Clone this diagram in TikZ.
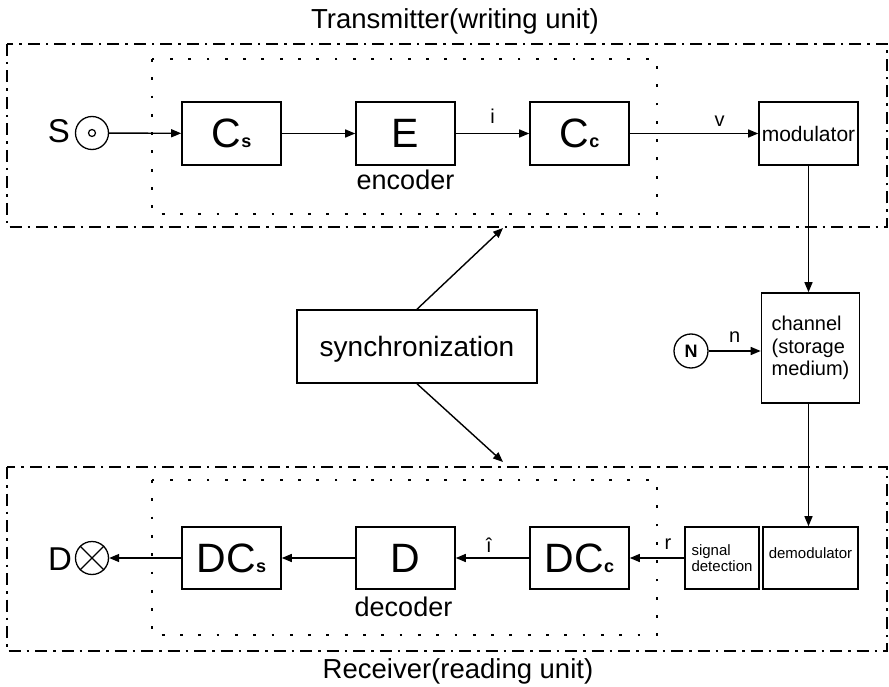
\documentclass[tikz,border=0pt]{standalone}
\usepackage{fontspec}
\setmainfont{Liberation Sans}
\usetikzlibrary{arrows.meta}

% small bold index letter set on the baseline of a block symbol
\newcommand\subtag[1]{{\fontsize{18}{18}\selectfont\bfseries #1}}
\newcommand\setfs[1]{\fontsize{#1}{#1}\selectfont}

\begin{document}
\begin{tikzpicture}[x=1pt,y=-1pt,
  block/.style={draw, line width=1.6pt, minimum width=99pt, minimum height=63pt,
                inner sep=0pt, font=\setfs{41}},
  smallbox/.style={draw, line width=1.6pt, inner sep=0pt},
  arr/.style={-{Triangle[length=10pt,width=8pt]}, line width=1.4pt},
  flowlabel/.style={anchor=base, inner sep=0pt, font=\setfs{20}},
  unitframe/.style={line width=2.2pt, dash pattern=on 12pt off 6pt on 2.5pt off 6pt},
  coderframe/.style={line width=2.8pt, dash pattern=on 2.8pt off 15.5pt},
  caption/.style={anchor=base, inner sep=0pt, font=\setfs{27.5}},
  port/.style={circle, draw, line width=1.3pt, inner sep=0pt, minimum size=33pt}
]
\path[use as bounding box] (0,0) rectangle (889,687);

% ---------- frames ----------
\draw[unitframe] (7,44) rectangle (887,227);
\draw[coderframe] (152,59) rectangle (657,214);
\draw[unitframe] (7,467) rectangle (887,651);
\draw[coderframe] (152,480) rectangle (657,635);

\node[caption] (txcap) at (455,29) {Transmitter(writing unit)};
\node[caption] (rxcap) at (458,678) {Receiver(reading unit)};

% ---------- transmitter ----------
\node[anchor=base, inner sep=0pt, font=\setfs{33}] (srclbl) at (59,143) {S};
\node[port] (src) at (92,133) {};
\node[circle, draw, line width=1.2pt, inner sep=0pt, minimum size=7pt] (srcdot) at (src.center) {};

\node[block] (cs) at (231.5,133.5) {C\subtag{s}};
\node[block] (enc) at (405.5,133.5) {E};
\node[block] (cc) at (579.5,133.5) {C\subtag{c}};
\node[smallbox, minimum width=99pt, minimum height=63pt, font=\setfs{21}, text depth=0pt] (mod) at (808.5,133.5) {modulator};
\node[anchor=base, inner sep=0pt, font=\setfs{27}] (enclbl) at (405.5,190) {encoder};

\draw[arr] (src) -- (cs);
\draw[arr] (cs) -- (enc);
\draw[arr] (enc) -- node[flowlabel, yshift=9.5pt] (ilbl) {i} (cc);
\draw[arr] (cc) -- node[flowlabel, pos=0.7, yshift=6.5pt] (vlbl) {v} (mod);

% ---------- channel ----------
\node[smallbox, minimum width=98pt, minimum height=110pt, align=left,
      font=\fontsize{20}{22.5}\selectfont] (chan) at (810.5,348) {channel\\(storage\\medium)};
\node[circle, draw, line width=1.3pt, inner sep=0pt, minimum size=34pt,
      font=\setfs{18}\bfseries] (noise) at (691,351) {N};
\draw[arr] (mod.south) -- (mod.south |- chan.north);
\draw[arr] (noise) -- node[flowlabel, yshift=9pt] (nlbl) {n} (noise -| chan.west);

% ---------- synchronization ----------
\node[smallbox, minimum width=240pt, minimum height=73pt, font=\setfs{28}, text depth=0pt] (sync) at (417,346.5) {synchronization};
\coordinate (synctx) at (503,228);
\coordinate (syncrx) at (503,462);
\draw[arr] (sync.north) -- (synctx);
\draw[arr] (sync.south) -- (syncrx);

% ---------- receiver ----------
\node[smallbox, minimum width=95pt, minimum height=62pt, font=\setfs{15}, text depth=9pt] (demod) at (810.5,558) {demodulator};
\node[smallbox, minimum width=74pt, minimum height=62pt, align=left,
      font=\fontsize{15}{16}\selectfont] (sdet) at (722,558) {signal\\detection};
\node[block, minimum height=62pt] (dcc) at (579.5,558) {DC\subtag{c}};
\node[block, minimum height=62pt] (dec) at (405.5,558) {D};
\node[block, minimum height=62pt] (dcs) at (231.5,558) {DC\subtag{s}};
\node[anchor=base, inner sep=0pt, font=\setfs{27}] (declbl) at (403.5,616) {decoder};
\node[port] (sink) at (92,558) {};
\draw[line width=1.2pt] (sink.north west) -- (sink.south east);
\draw[line width=1.2pt] (sink.north east) -- (sink.south west);
\node[anchor=base, inner sep=0pt, font=\setfs{33}] (sinklbl) at (60,570) {D};

\draw[arr] (chan.south -| mod.south) -- (mod.south |- demod.north);
\draw[arr] (sdet) -- node[flowlabel, pos=0.3, yshift=9pt] (rlbl) {r} (dcc);
\draw[arr] (dcc) -- node[flowlabel, pos=0.55, yshift=6pt] (ihat) {î} (dec);
\draw[arr] (dec) -- (dcs);
\draw[arr] (dcs) -- (sink);
\end{tikzpicture}
\end{document}
